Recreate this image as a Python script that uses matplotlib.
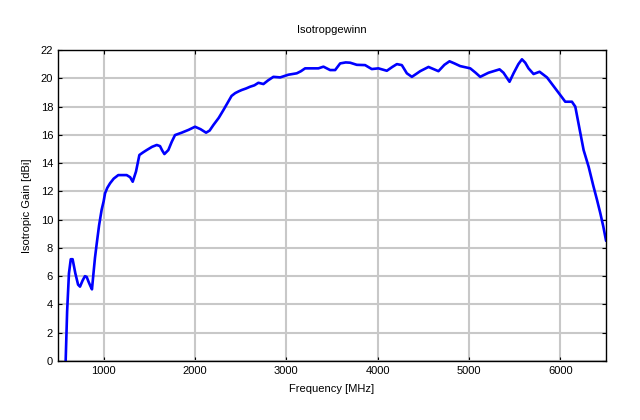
import matplotlib
matplotlib.use("Agg")
import matplotlib.pyplot as plt

# --- data ---
freq_mhz = [584, 600, 620, 640, 660, 690, 720, 741, 770, 795, 814, 835, 855, 872,
            890, 905, 924, 950, 978, 1000, 1015, 1040, 1070, 1110, 1160, 1252, 1290,
            1318, 1354, 1391, 1430, 1471, 1530, 1581, 1617, 1640, 1665, 1708, 1745,
            1781, 1854, 1930, 2000, 2060, 2121, 2160, 2201, 2260, 2311, 2360, 2400,
            2440, 2480, 2512, 2560, 2603, 2650, 2694, 2749, 2800, 2858, 2932, 3022,
            3114, 3160, 3205, 3351, 3406, 3479, 3534, 3589, 3650, 3698, 3771, 3862,
            3935, 4008, 4100, 4160, 4210, 4264, 4319, 4374, 4420, 4465, 4556, 4665,
            4730, 4786, 4840, 4903, 5013, 5070, 5122, 5213, 5334, 5377, 5443, 5487,
            5540, 5579, 5615, 5651, 5706, 5772, 5853, 5944, 6000, 6053, 6126, 6163,
            6210, 6254, 6309, 6360, 6401, 6437, 6470, 6500]
gain_dbi = [0.0, 3.5, 6.2, 7.2, 7.2, 6.2, 5.4, 5.26, 5.7, 6.0, 5.95, 5.6, 5.3, 5.07,
            6.3, 7.3, 8.3, 9.6, 10.7, 11.3, 11.86, 12.25, 12.57, 12.9, 13.15, 13.15,
            13.0, 12.68, 13.4, 14.57, 14.75, 14.92, 15.15, 15.28, 15.2, 14.9, 14.64,
            14.92, 15.5, 15.98, 16.15, 16.35, 16.57, 16.4, 16.15, 16.3, 16.69, 17.2,
            17.75, 18.3, 18.75, 18.95, 19.08, 19.17, 19.28, 19.4, 19.5, 19.68, 19.59,
            19.85, 20.1, 20.06, 20.25, 20.35, 20.5, 20.7, 20.7, 20.82, 20.58, 20.58,
            21.05, 21.12, 21.1, 20.95, 20.93, 20.65, 20.7, 20.53, 20.8, 21.0, 20.93,
            20.35, 20.1, 20.3, 20.5, 20.8, 20.5, 20.95, 21.2, 21.05, 20.86, 20.7,
            20.4, 20.1, 20.39, 20.63, 20.39, 19.75, 20.35, 21.0, 21.34, 21.1, 20.7,
            20.3, 20.46, 20.06, 19.28, 18.8, 18.34, 18.34, 17.99, 16.4, 14.92, 13.74,
            12.4, 11.39, 10.45, 9.5, 8.5]
x_ticks = [1000, 2000, 3000, 4000, 5000, 6000]
y_ticks = list(range(0, 23, 2))

plt.rcParams['font.family'] = ['Liberation Sans', 'DejaVu Sans']

fig = plt.figure(figsize=(6.4, 4.2), dpi=100)
ax = fig.add_axes([0.0906, 0.1405, 0.8564, 0.7405])

ax.plot(freq_mhz, gain_dbi, color='#0000ff', lw=1.9,
        solid_joinstyle='round', solid_capstyle='round')

ax.set_xlim(500, 6500)
ax.set_ylim(0, 22)
ax.set_xticks(x_ticks)
ax.set_yticks(y_ticks)
ax.grid(True, color='#c8c8c8', lw=1.5)
ax.set_axisbelow(True)
ax.tick_params(direction='in', labelsize=8, length=3, top=True, right=True)
for s in ax.spines.values():
    s.set_linewidth(1.0)

ax.set_title('Isotropgewinn', fontsize=8, pad=12)
ax.set_xlabel('Frequency [MHz]', fontsize=8, labelpad=6)
ax.set_ylabel('Isotropic Gain [dBi]', fontsize=8, labelpad=6)

fig.savefig('out.png', dpi=100)
